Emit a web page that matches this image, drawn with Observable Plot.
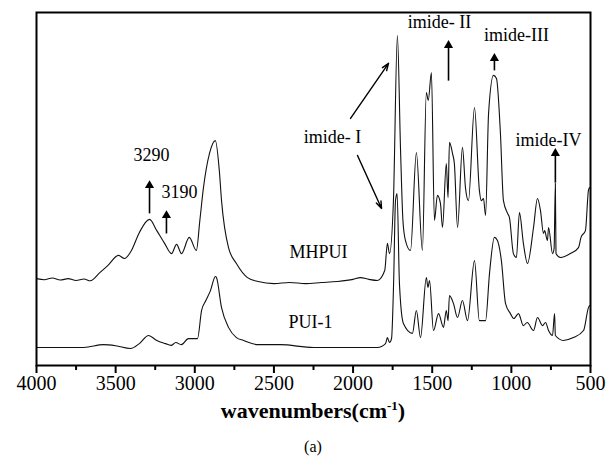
<!DOCTYPE html>
<html><head><meta charset="utf-8">
<script src="https://cdn.jsdelivr.net/npm/d3@7"></script>
<script src="https://cdn.jsdelivr.net/npm/@observablehq/plot@0.6"></script>
<style>
body{margin:0;background:#fff;font-family:"Liberation Serif",serif;color:#000;}
#wrap{position:relative;width:608px;height:461px;}
#chart{position:absolute;left:0;top:0;}
.xlabel{position:absolute;top:397px;left:18px;width:590px;text-align:center;font-weight:bold;font-size:22px;line-height:27px;}
.xlabel sup{font-size:13px;line-height:0;}
.cap{position:absolute;top:437px;left:18px;width:590px;text-align:center;font-size:16px;line-height:20px;}
</style></head><body>
<div id="wrap"><div id="chart"></div>
<div class="xlabel">wavenumbers(cm<sup>-1</sup>)</div>
<div class="cap">(a)</div></div>
<script>
// MHPUI spectrum (wavenumber, arbitrary intensity units)
const wnMHPUI = [4000,3950,3900,3850,3800,3750,3700,3660,3600,3550,3482,3444,3400,3350,3286,3240,3191,3147,3115,3084,3035,2990,2968,2946,2907,2870,2845,2831,2787,2737,2667,2600,2500,2400,2300,2200,2100,2000,1953,1900,1846,1800,1783,1770,1745,1720,1700,1685,1669,1637,1600,1562,1537,1525,1505,1486,1467,1448,1435,1411,1400,1391,1372,1360,1340,1309,1290,1271,1233,1202,1190,1176,1163,1144,1113,1094,1069,1050,1024,1012,987,968,949,924,898,860,835,816,797,790,772,765,740,730,722,718,690,627,576,560,532,513,506];
const valMHPUI = [24.6,24.3,24.8,24.2,24.6,24.1,24.5,24.0,26.3,28.3,31.2,30.3,32.6,37.7,41.4,38.2,34.6,31.7,34.3,31.7,36.3,32.6,41.1,50.1,60.1,63.7,55.2,46.7,33.4,28.9,24.9,23.8,23.2,23.5,23.2,23.5,23.8,24.4,24.9,24.4,24.1,26.9,34.6,31.7,46.7,93.5,60.9,41.1,35.4,32.6,60.3,32.6,77.3,75.1,83.0,41.1,48.2,45.9,39.1,57.2,47.6,63.2,60.1,57.2,39.1,61.8,50.4,46.7,73.1,49.6,46.7,47.3,42.5,71.4,82.2,81.3,65.7,46.7,43.1,41.9,31.7,30.6,43.3,34.6,28.9,39.1,47.3,43.9,37.4,38.2,35.4,39.1,31.7,33.1,51.6,31.7,30.6,31.7,33.4,36.3,38.2,49.6,50.4];
// PUI-1 spectrum
const wnPUI1 = [4000,3800,3700,3577,3500,3406,3350,3292,3240,3185,3150,3120,3085,3040,2983,2957,2930,2901,2870,2863,2831,2787,2737,2692,2600,2459,2250,2000,1846,1795,1783,1770,1757,1744,1732,1722,1707,1682,1625,1600,1574,1537,1527,1517,1492,1460,1429,1411,1400,1391,1366,1340,1309,1277,1233,1202,1163,1138,1107,1088,1063,1037,1006,985,955,924,900,860,835,803,784,765,740,727,722,671,608,544,513,506];
const valPUI1 = [5.1,5.1,5.1,5.9,5.6,4.8,6.2,8.5,7.1,6.2,5.7,6.5,5.9,7.6,7.6,15.6,18.4,21.2,25.2,24.9,16.4,10.8,7.9,7.1,5.9,5.9,5.1,5.1,5.1,6.2,7.9,6.5,7.6,23.2,46.7,48.7,23.2,11.9,9.1,15.6,7.9,24.9,22.1,24.1,9.9,14.7,10.8,15.6,12.7,19.8,17.6,13.6,18.4,12.7,29.7,12.7,12.7,26.1,36.3,35.4,29.7,17.6,14.7,13.3,14.7,11.3,12.2,9.9,13.6,11.3,12.2,9.9,8.5,14.7,8.5,7.1,7.9,9.9,16.4,17.0];
// axis ticks
const majorTicks = [4000,3500,3000,2500,2000,1500,1000,500];
const minorTicks = [3750,3250,2750,2250,1750,1250,750];
// annotation labels
const labelText = ["3290","3190","MHPUI","PUI-1","imide- I","imide- II","imide-III","imide-IV"];
const labelWn =   [3273, 3097, 2218, 2269, 2130, 1454, 968, 765];
const labelVal =  [59.5, 49.0, 32.0, 12.2, 64.6, 97.2, 93.5, 63.7];
// vertical arrows (wavenumber, from value, to value)
const vArrowWn =   [3286, 3179, 1397, 1107, 722];
const vArrowFrom = [43.1, 37.4, 80.7, 83.6, 51.8];
const vArrowTo =   [51.0, 42.5, 90.7, 87.0, 60.1];
// diagonal arrows for imide-I
const dArrowWn1 = [2016, 1972];
const dArrowV1 =  [70.0, 59.5];
const dArrowWn2 = [1776, 1820];
const dArrowV2 =  [85.6, 44.5];

const mh = wnMHPUI.map((w,i)=>({w, v: valMHPUI[i]}));
const pu = wnPUI1.map((w,i)=>({w, v: valPUI1[i]}));
const labels = labelText.map((t,i)=>({t, w: labelWn[i], v: labelVal[i]}));
const vArrows = vArrowWn.map((w,i)=>({w, a: vArrowFrom[i], b: vArrowTo[i]}));
const dArrows = dArrowWn1.map((w,i)=>({x1: w, y1: dArrowV1[i], x2: dArrowWn2[i], y2: dArrowV2[i]}));

const chart = Plot.plot({
  width: 608, height: 395,
  marginLeft: 36, marginRight: 18, marginTop: 12, marginBottom: 30,
  style: {fontFamily: "'Liberation Serif', serif", fontSize: "20px", color: "#000", background: "#fff"},
  x: {domain: [4000, 500]},
  y: {domain: [0, 100], axis: null},
  marks: [
    Plot.line(mh, {x: "w", y: "v", stroke: "#111", strokeWidth: 1.1, curve: "monotone-x"}),
    Plot.line(pu, {x: "w", y: "v", stroke: "#111", strokeWidth: 1.1, curve: "monotone-x"}),
    Plot.link(vArrows, {x1: "w", x2: "w", y1: "a", y2: "b", stroke: "#000", strokeWidth: 1.6}),
    Plot.dot(vArrows, {x: "w", y: "b", symbol: "triangle", r: 3.4, fill: "#000", stroke: "none"}),
    Plot.arrow(dArrows, {x1: "x1", y1: "y1", x2: "x2", y2: "y2", stroke: "#000", strokeWidth: 1.4, headLength: 8, headAngle: 40}),
    Plot.text(labels, {x: "w", y: "v", text: "t", fontSize: 18, fill: "#000", fontFamily: "'Liberation Serif', serif"}),
    Plot.frame({stroke: "#000", strokeWidth: 2}),
    Plot.axisX({ticks: majorTicks, tickSize: 8, tickPadding: 2, strokeWidth: 2, fontSize: 20, tickFormat: d => String(d), label: null}),
    Plot.axisX({ticks: minorTicks, tickSize: 5, strokeWidth: 2, tickFormat: () => "", label: null})
  ]
});
document.getElementById("chart").appendChild(chart);
</script>
</body></html>
